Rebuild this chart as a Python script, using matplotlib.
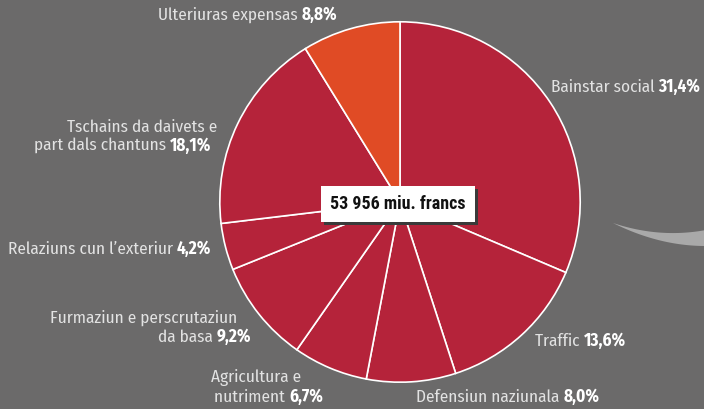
import numpy as np
import matplotlib
matplotlib.use('Agg')
import matplotlib.pyplot as plt
from matplotlib.patches import Polygon, Rectangle

# Daten
categorias = ["Bainstar social", "Traffic", "Defensiun naziunala", "Agricultura e\nnutriment",
              "Furmaziun e perscrutaziun\nda basa", "Relaziuns cun l\u2019exteriur",
              "Tschains da daivets e\npart dals chantuns", "Ulteriuras expensas"]
valurs = [31.4, 13.6, 8.0, 6.7, 9.2, 4.2, 18.1, 8.8]
etichettas_pct = ["31,4%", "13,6%", "8,0%", "6,7%", "9,2%", "4,2%", "18,1%", "8,8%"]
total = "53 956 miu. francs"

fons = '#6b6a6a'
cotschen = '#b5233a'
oransch = '#e04b25'
txt_col = '#e2e2e2'

plt.rcParams['font.family'] = ['Fira Sans Condensed', 'DejaVu Sans']

W, H = 704, 409
fig = plt.figure(figsize=(W / 100, H / 100), dpi=100, facecolor=fons)

# swoosh decorativ
t = np.linspace(0, 1, 80)
xs = 613 + 93 * t
sup = 223 + 31.2 * t - 24.2 * t ** 2
inf = 223 + 46.3 * t - 23.3 * t ** 2
pts = np.vstack([np.column_stack([xs, sup]), np.column_stack([xs[::-1], inf[::-1]])])
pts[:, 0] /= W
pts[:, 1] = 1 - pts[:, 1] / H
fig.patches.append(Polygon(pts, closed=True, transform=fig.transFigure, facecolor='#a9a9a9',
                           edgecolor='none', zorder=0))

# pie
cx, cy, r = 400, 202, 182
ax = fig.add_axes([(cx - r) / W, (H - cy - r) / H, 2 * r / W, 2 * r / H])
ax.set_facecolor('none')
colurs = [cotschen] * 7 + [oransch]
ax.pie(valurs, colors=colurs, startangle=90, counterclock=False, radius=1,
       wedgeprops=dict(edgecolor='white', linewidth=1.2))
ax.set_xlim(-1.01, 1.01)
ax.set_ylim(-1.01, 1.01)
ax.set_aspect('equal')
ax.axis('off')

# etichettas: x per linia, y emprima linia (pixels), ha
posiziuns = [([551], 87, 'left'), ([535], 341, 'left'), ([416], 397, 'left'),
             ([211, 214], 378, 'left'), ([237, 251], 318, 'right'), ([211], 249, 'right'),
             ([217, 211], 127, 'right'), ([337], 15, 'right')]
fs = 12.4
lh = 19
for cat, pct, (pxs, py, ha) in zip(categorias, etichettas_pct, posiziuns):
    linias = cat.split('\n')
    n = len(linias)
    for i, lin in enumerate(linias):
        yy = py + i * lh
        x0, y0 = pxs[i] / W, 1 - yy / H
        if i == n - 1:
            if ha == 'left':
                tt = fig.text(x0, y0, lin + ' ', ha='left', va='center', color=txt_col, fontsize=fs)
                fig.canvas.draw()
                bb = tt.get_window_extent()
                fig.text(bb.x1 / W, y0, pct, ha='left', va='center', color='white',
                         fontsize=fs, fontweight='bold')
            else:
                tp = fig.text(x0, y0, pct, ha='right', va='center', color='white',
                              fontsize=fs, fontweight='bold')
                fig.canvas.draw()
                bb = tp.get_window_extent()
                fig.text(bb.x0 / W, y0, lin + ' ', ha='right', va='center', color=txt_col, fontsize=fs)
        else:
            fig.text(x0, y0, lin, ha=ha, va='center', color=txt_col, fontsize=fs)

# total en il center
tc = fig.text(398 / W, 1 - 204 / H, total, ha='center', va='center', fontsize=13,
              fontweight='heavy', family=['Roboto Condensed', 'DejaVu Sans'], color='#111111',
              bbox=dict(boxstyle='square,pad=0.5', facecolor='white', edgecolor='none'), zorder=5)
fig.canvas.draw()
bp = tc.get_bbox_patch().get_window_extent()
fig.patches.append(Rectangle(((bp.x0 + 3) / W, (bp.y0 - 3) / H), bp.width / W, bp.height / H,
                             transform=fig.transFigure, facecolor='#3a3a3a', edgecolor='none',
                             zorder=4))

fig.savefig('out.png', dpi=100, facecolor=fons)
